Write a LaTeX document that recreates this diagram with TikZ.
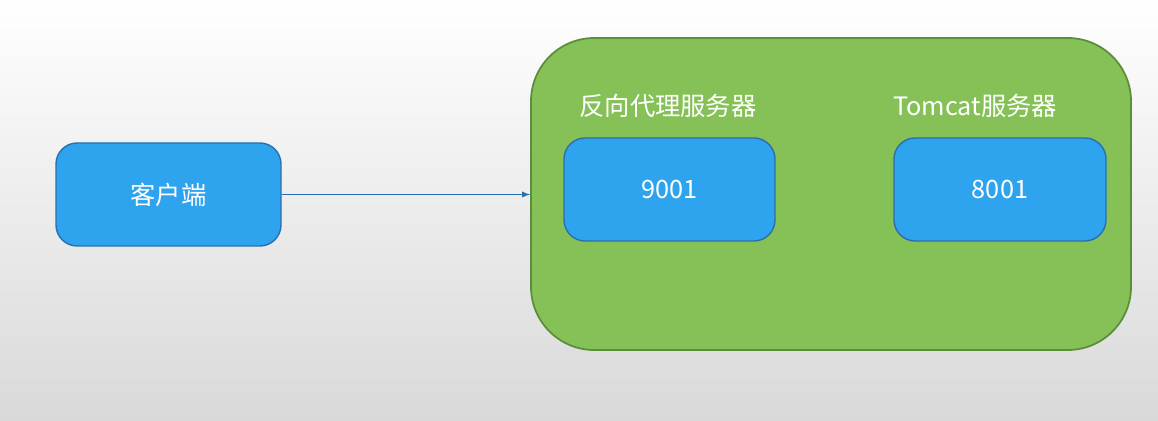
\documentclass[tikz,border=0pt]{standalone}
\usepackage{fontspec}
\setmainfont{Noto Sans CJK SC}
\definecolor{boxblue}{HTML}{2EA3EE}
\definecolor{blueline}{HTML}{2B6FAE}
\definecolor{boxgreen}{HTML}{86C157}
\definecolor{greenline}{HTML}{5B8E3A}
\tikzset{
  serverbox/.style = {draw = blueline, fill = boxblue, rounded corners = 12pt, line width = 0.8pt, text = white, font = \Large},
  groupbox/.style = {draw = greenline, fill = boxgreen, rounded corners = 36pt, line width = 1pt}
}
\begin{document}
\begin{tikzpicture}[x = 0.02cm, y = -0.02cm]
\shade[top color = white, bottom color = black!15] (0, 0) rectangle (1158, 421);
\useasboundingbox (0, 0) rectangle (1158, 421);

\node[groupbox, minimum width = 600*0.02cm, minimum height = 312*0.02cm] (proxyarea) at (831, 194) {};
\node[serverbox, minimum width = 225*0.02cm, minimum height = 103*0.02cm] (client) at (168.5, 194.5) {客户端};
\node[serverbox, minimum width = 211*0.02cm, minimum height = 103*0.02cm] (proxy) at (669.5, 189.5) {9001};
\node[serverbox, minimum width = 212*0.02cm, minimum height = 103*0.02cm] (tomcat) at (1000, 189.5) {8001};

\node[text = white, font = \Large] (proxylabel) at (668, 106) {反向代理服务器};
\node[text = white, font = \Large] (tomcatlabel) at (975, 106) {Tomcat服务器};

\draw[-latex, blueline, line width = 0.6pt] (client) -- (proxyarea.west |- client);
\end{tikzpicture}
\end{document}
